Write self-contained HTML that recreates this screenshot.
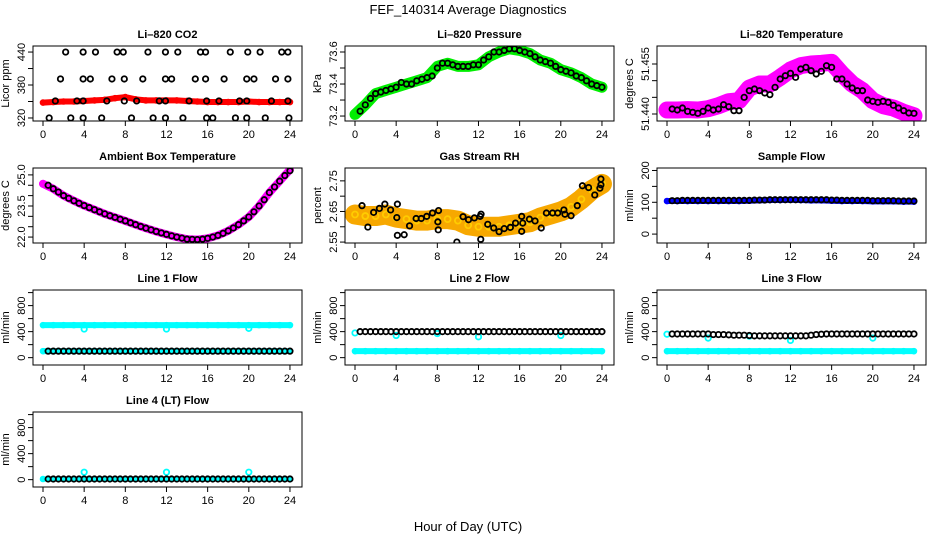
<!DOCTYPE html>
<html><head><meta charset="utf-8"><style>
html,body{margin:0;padding:0;background:#fff}
svg{display:block;font-family:"Liberation Sans",Arial,sans-serif}
</style></head><body>
<svg id="chart" width="936" height="540" viewBox="0 0 936 540" xmlns="http://www.w3.org/2000/svg">
<rect width="936" height="540" fill="#fff"/>
<text x="468" y="14" font-size="13" text-anchor="middle">FEF_140314  Average Diagnostics</text>
<text x="468" y="531" font-size="13" text-anchor="middle">Hour of Day (UTC)</text>
</svg>
<script>
// ---- shared hour grids ----
const hoursBand = [0,1,2,3,4,5,6,7,8,9,10,11,12,13,14,15,16,17,18,19,20,21,22,23,24];
const hoursHalf = [0.5,1,1.5,2,2.5,3,3.5,4,4.5,5,5.5,6,6.5,7,7.5,8,8.5,9,9.5,10,10.5,11,11.5,12,12.5,13,13.5,14,14.5,15,15.5,16,16.5,17,17.5,18,18.5,19,19.5,20,20.5,21,21.5,22,22.5,23,23.5,24];
const xTickLabels = [0,4,8,12,16,20,24];

// ---- Li-820 CO2 ----
const co2Band = [348,349,350,350,351,352,353,356,358,354,352,352,352,352,351,350,349,349,349,349,350,349,349,349,349];
const co2BlackHours = [2.2,3.9,5.1,7.2,7.8,10.2,11.9,13.1,15.3,15.8,18.2,19.9,21.1,23.2,23.8, 1.7,3.9,4.6,6.7,7.9,9.7,11.9,12.5,14.8,15.8,17.6,19.8,20.5,22.6,23.8, 1.2,3.3,3.9,6.2,7.9,9.1,11.3,11.9,14.2,15.9,17.1,19.1,19.8,22.2,23.8, 0.6,2.7,3.9,5.7,8.6,10.7,11.9,13.6,15.9,16.5,18.7,19.8,21.6,23.9];
const co2BlackVals = [440,440,440,440,440,440,440,440,440,440,440,440,440,440,440, 391,391,391,391,391,391,391,391,391,391,391,391,391,391,391, 351,351,351,351,351,351,351,351,351,351,351,351,351,351,351, 320,320,320,320,320,320,320,320,320,320,320,320,320,320];

// ---- Li-820 Pressure ----
const presBand = [73.21,73.27,73.34,73.36,73.38,73.40,73.42,73.44,73.51,73.53,73.51,73.51,73.52,73.57,73.60,73.62,73.61,73.59,73.55,73.53,73.49,73.47,73.44,73.40,73.38];
const presBlack = [73.23,73.27,73.31,73.34,73.35,73.36,73.37,73.38,73.41,73.40,73.40,73.42,73.43,73.44,73.45,73.50,73.53,73.53,73.52,73.51,73.51,73.51,73.52,73.52,73.55,73.57,73.60,73.60,73.61,73.62,73.62,73.61,73.60,73.59,73.57,73.55,73.54,73.53,73.51,73.49,73.48,73.47,73.45,73.44,73.42,73.40,73.39,73.38];

// ---- Li-820 Temperature ----
const tempBand = [51.4412,51.4412,51.4413,51.4412,51.4416,51.4425,51.4437,51.4440,51.4478,51.4490,51.4490,51.4510,51.4532,51.4545,51.4550,51.4552,51.4555,51.4520,51.4490,51.4470,51.4440,51.4425,51.4418,51.4405,51.4395];
const tempBlack = [51.4415,51.4412,51.4418,51.4408,51.4405,51.4402,51.4408,51.4418,51.4412,51.4415,51.4428,51.4422,51.4410,51.4410,51.4450,51.4470,51.4475,51.4470,51.4463,51.4458,51.4480,51.4505,51.4515,51.4522,51.4510,51.4535,51.4540,51.4530,51.4520,51.4528,51.4545,51.4540,51.4505,51.4505,51.4490,51.4478,51.4470,51.4470,51.4442,51.4438,51.4435,51.4438,51.4435,51.4426,51.4418,51.4410,51.4403,51.4402];

// ---- Ambient Box Temperature ----
const ambBand = [24.57,24.33,24.0,23.75,23.52,23.32,23.12,22.95,22.78,22.6,22.43,22.27,22.13,22.0,21.9,21.88,21.94,22.08,22.3,22.6,22.97,23.5,24.15,24.7,25.25];
const ambBlack = [24.50,24.33,24.17,24.0,23.87,23.75,23.63,23.52,23.42,23.32,23.22,23.12,23.03,22.95,22.86,22.78,22.69,22.6,22.51,22.43,22.35,22.27,22.2,22.13,22.06,22.0,21.95,21.9,21.89,21.88,21.9,21.94,22.0,22.08,22.18,22.3,22.44,22.6,22.78,22.97,23.22,23.5,23.8,24.15,24.42,24.7,24.97,25.2];

// ---- Gas Stream RH ----
const rhBand = [2.64,2.635,2.635,2.64,2.63,2.625,2.62,2.62,2.625,2.625,2.62,2.605,2.60,2.60,2.60,2.605,2.61,2.615,2.63,2.64,2.65,2.665,2.69,2.72,2.74];
const rhBlackHours = [0.68,1.25,1.81,2.37,2.9,3.46,4.06,4.12,4.12,4.78,5.3,5.94,6.44,6.97,7.53,8.09,8.12,8.05,9.9,10.5,11.03,11.6,12.16,12.22,12.25,12.9,13.48,14.0,14.5,15.1,15.6,16.2,16.2,16.3,16.95,17.5,18.1,18.6,19.2,19.7,20.3,20.4,21.0,21.6,22.1,22.7,23.3,23.8,23.9,23.9];
const rhBlackVals = [2.669,2.599,2.647,2.66,2.674,2.655,2.63,2.674,2.572,2.574,2.603,2.627,2.627,2.634,2.645,2.59,2.653,2.616,2.55,2.633,2.623,2.629,2.634,2.559,2.641,2.608,2.596,2.584,2.594,2.598,2.612,2.634,2.585,2.612,2.625,2.619,2.596,2.645,2.645,2.645,2.655,2.641,2.636,2.669,2.734,2.728,2.704,2.726,2.756,2.737];

// ---- Sample Flow ----
const sfBand = [104,104,104,104,104,104,104,104,105,106,107,107,108,107,106,106,105,104,104,104,103,103,103,102,102];
const sfBlack = [105,105,106,106,106,106,106,106,106,106,106,106,106,106,106,106,107,107,107,108,108,108,108,108,108,108,108,108,108,108,108,107,107,106,106,106,106,106,106,105,105,105,105,105,104,104,104,104];

// ---- Line 1 Flow ----
const l1Cyan = [500,500,500,500,500,500,500,500,500,500,500,500,500,500,500,500,500,500,500,500,500,500,500,500,500];
const l1CyanLow = [100,100,100,100,100,100,100,100,100,100,100,100,100,100,100,100,100,100,100,100,100,100,100,100,100];
const l1Black = [100,100,100,100,100,100,100,100,100,100,100,100,100,100,100,100,100,100,100,100,100,100,100,100,100,100,100,100,100,100,100,100,100,100,100,100,100,100,100,100,100,100,100,100,100,100,100,100];
const l1DipHours = [4,12,20];
const l1DipVals = [440,440,450];

// ---- Line 2 Flow ----
const l2Cyan = [100,100,100,100,100,100,100,100,100,100,100,100,100,100,100,100,100,100,100,100,100,100,100,100,100];
const l2Black = [400,400,400,400,400,400,400,400,400,400,400,400,400,400,400,400,400,400,400,400,400,400,400,400,400,400,400,400,400,400,400,400,400,400,400,400,400,400,400,400,400,400,400,400,400,400,400,400];
const l2DipHours = [0,4,8,12,20];
const l2DipVals = [380,340,370,320,340];

// ---- Line 3 Flow ----
const l3Cyan = [100,100,100,100,100,100,100,100,100,100,100,100,100,100,100,100,100,100,100,100,100,100,100,100,100];
const l3Black = [364,364,364,364,364,364,364,364,355,355,355,350,345,345,345,340,335,335,335,335,335,335,335,335,335,335,335,345,355,360,364,364,364,364,364,364,364,364,364,364,364,364,364,364,364,364,364,364];
const l3DipHours = [0,4,8,12,20];
const l3DipVals = [360,300,330,265,300];

// ---- Line 4 (LT) Flow ----
const l4Cyan = [10,10,10,10,10,10,10,10,10,10,10,10,10,10,10,10,10,10,10,10,10,10,10,10,10];
const l4Black = [10,10,10,10,10,10,10,10,10,10,10,10,10,10,10,10,10,10,10,10,10,10,10,10,10,10,10,10,10,10,10,10,10,10,10,10,10,10,10,10,10,10,10,10,10,10,10,10];
const l4SpikeHours = [4,12,20];
const l4SpikeVals = [115,115,115];

const svg = document.getElementById('chart');
const NS = 'http://www.w3.org/2000/svg';
function mk(tag, attrs, parent){
  const e = document.createElementNS(NS, tag);
  for (const k in attrs) e.setAttribute(k, attrs[k]);
  (parent||svg).appendChild(e);
  return e;
}

function panel(p){
  const L = 33 + 312*p.col, R = 302 + 312*p.col;
  const T = 46 + 122*p.row, B = T + 75;
  const xs = h => 43 + 312*p.col + h*10.29;
  const ys = v => T + (p.ylim[1]-v)/(p.ylim[1]-p.ylim[0])*75;
  const g = mk('g', {});
  
  
  const clip = mk('clipPath', {id:'clip-'+p.name}, g);
  mk('rect', {x:L, y:T, width:R-L, height:B-T}, clip);
  const plot = mk('g', {'clip-path':'url(#clip-'+p.name+')'}, g);
  
  
  p.series.forEach(s=>{
    if (s.band){
      const pts = s.hours.map((h,i)=>xs(h)+','+ys(s.vals[i])).join(' ');
      const pl = mk('polyline', {points:pts, fill:'none', stroke:s.color, 'stroke-width':s.width, 'stroke-linejoin':'round', 'stroke-linecap':'round', opacity:s.opacity||1}, plot);
      
      
    }
    s.hours.forEach((h,i)=>{
      const c = mk('circle', {cx:xs(h), cy:ys(s.vals[i]), r:s.r||2.7, fill:'none', stroke:s.pcolor||s.color, 'stroke-width':s.sw||1.8}, plot);
      
      
    });
  });
  const box = mk('rect', {x:L, y:T, width:R-L, height:B-T, fill:'none', stroke:'#000', 'stroke-width':1}, g);
  
  
  mk('line', {x1:xs(0), x2:xs(24), y1:B, y2:B, stroke:'#000'}, g);
  xTickLabels.forEach(t=>{
    mk('line', {x1:xs(t), x2:xs(t), y1:B, y2:B+5, stroke:'#000'}, g);
    const tx = mk('text', {x:xs(t), y:B+17, 'font-size':11, 'text-anchor':'middle'}, g);
    tx.textContent = t;
    
    
  });
  p.yticks.forEach((t,i)=>{
    mk('line', {x1:L-5, x2:L, y1:ys(t), y2:ys(t), stroke:'#000'}, g);
    if (p.ylabels[i]){
      const y = ys(t), x = L-8;
      const tx = mk('text', {x:x, y:y, 'font-size':11, 'text-anchor':'middle', transform:'rotate(-90 '+x+' '+y+')'}, g);
      tx.textContent = p.ylabels[i];
      
      
    }
  });
  const yx = L-24, ym = (T+B)/2;
  const yt = mk('text', {x:yx, y:ym, 'font-size':11, 'text-anchor':'middle', transform:'rotate(-90 '+yx+' '+ym+')'}, g);
  yt.textContent = p.ylab;
  
  
  const tt = mk('text', {x:(L+R)/2, y:T-8, 'font-size':11, 'font-weight':'bold', 'text-anchor':'middle'}, g);
  tt.textContent = p.title;
  
  
}

const flowTicks = [0,200,400,600,800,1000];
const flowLabels = ['0','','400','','800',''];
const flowLim = [-113,1040];

panel({name:'li820-co2', col:0,row:0, title:'Li\u2013820 CO2', ylab:'Licor ppm', ylim:[314.5,451],
  yticks:[320,350,380,410,440], ylabels:['320','','380','','440'],
  series:[{band:true,hours:hoursBand,vals:co2Band,color:'#ff0000',width:6,r:2.4},
          {hours:co2BlackHours,vals:co2BlackVals,color:'#000'}]});
panel({name:'li820-pressure', col:1,row:0, title:'Li\u2013820 Pressure', ylab:'kPa', ylim:[73.169,73.6375],
  yticks:[73.2,73.3,73.4,73.5,73.6], ylabels:['73.2','','73.4','','73.6'],
  series:[{band:true,hours:hoursBand,vals:presBand,color:'#00ee00',width:11,r:2.6},
          {hours:hoursHalf,vals:presBlack,color:'#000'}]});
panel({name:'li820-temperature', col:2,row:0, title:'Li\u2013820 Temperature', ylab:'degrees C', ylim:[51.4379,51.4604],
  yticks:[51.440,51.445,51.450,51.455], ylabels:['51.440','','','51.455'],
  series:[{band:true,hours:hoursBand,vals:tempBand,color:'#ff00ff',width:17,r:3},
          {hours:hoursHalf,vals:tempBlack,color:'#000'}]});
panel({name:'ambient-box-temperature', col:0,row:1, title:'Ambient Box Temperature', ylab:'degrees C', ylim:[21.714,25.333],
  yticks:[22.0,22.5,23.0,23.5,24.0,24.5,25.0], ylabels:['22.0','','','23.5','','','25.0'],
  series:[{band:true,hours:hoursBand,vals:ambBand,color:'#ff00ff',width:8,r:3},
          {hours:hoursHalf,vals:ambBlack,color:'#000'}]});
panel({name:'gas-stream-rh', col:1,row:1, title:'Gas Stream RH', ylab:'percent', ylim:[2.547,2.792],
  yticks:[2.55,2.60,2.65,2.70,2.75], ylabels:['2.55','','2.65','','2.75'],
  series:[{band:true,hours:hoursBand,vals:rhBand,color:'#f7a800',width:20,r:3,pcolor:'#ffcc00'},
          {hours:rhBlackHours,vals:rhBlackVals,color:'#000'}]});
panel({name:'sample-flow', col:2,row:1, title:'Sample Flow', ylab:'ml/min', ylim:[-28,207.8],
  yticks:[0,50,100,150,200], ylabels:['0','','100','','200'],
  series:[{band:true,hours:hoursBand,vals:sfBand,color:'#0000ff',width:6,r:2.4},
          {hours:hoursHalf,vals:sfBlack,color:'#000'}]});
panel({name:'line1-flow', col:0,row:2, title:'Line 1 Flow', ylab:'ml/min', ylim:flowLim,
  yticks:flowTicks, ylabels:flowLabels,
  series:[{band:true,hours:hoursBand,vals:l1Cyan,color:'#00ffff',width:6,r:2.4},
          {band:true,hours:hoursBand,vals:l1CyanLow,color:'#00ffff',width:6,r:2.4},
          {hours:l1DipHours,vals:l1DipVals,color:'#00ffff'},
          {hours:hoursHalf,vals:l1Black,color:'#000'}]});
panel({name:'line2-flow', col:1,row:2, title:'Line 2 Flow', ylab:'ml/min', ylim:flowLim,
  yticks:flowTicks, ylabels:flowLabels,
  series:[{band:true,hours:hoursBand,vals:l2Cyan,color:'#00ffff',width:6,r:2.4},
          {hours:l2DipHours,vals:l2DipVals,color:'#00ffff'},
          {hours:hoursHalf,vals:l2Black,color:'#000'}]});
panel({name:'line3-flow', col:2,row:2, title:'Line 3 Flow', ylab:'ml/min', ylim:flowLim,
  yticks:flowTicks, ylabels:flowLabels,
  series:[{band:true,hours:hoursBand,vals:l3Cyan,color:'#00ffff',width:6,r:2.4},
          {hours:l3DipHours,vals:l3DipVals,color:'#00ffff'},
          {hours:hoursHalf,vals:l3Black,color:'#000'}]});
panel({name:'line4-flow', col:0,row:3, title:'Line 4 (LT) Flow', ylab:'ml/min', ylim:flowLim,
  yticks:flowTicks, ylabels:flowLabels,
  series:[{band:true,hours:hoursBand,vals:l4Cyan,color:'#00ffff',width:5,r:2.4},
          {hours:l4SpikeHours,vals:l4SpikeVals,color:'#00ffff'},
          {hours:hoursHalf,vals:l4Black,color:'#000'}]});
</script>
</body></html>
